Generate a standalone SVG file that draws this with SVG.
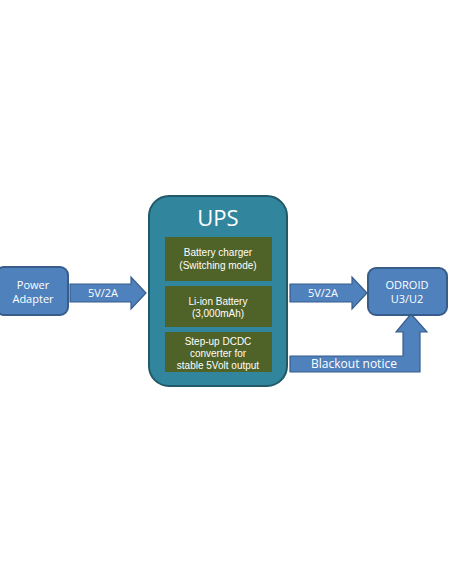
<svg xmlns="http://www.w3.org/2000/svg" width="452" height="584" viewBox="0 0 452 584">
<style>
.blue{fill:#4f81bd;stroke:#385d8a;stroke-width:2}
.arr{fill:#4f81bd;stroke:#385d8a;stroke-width:1.2}
.t{font-family:"Open Sans","Noto Sans",sans-serif;fill:#fff;text-anchor:middle}
.s{font-family:"Liberation Sans",Arial,sans-serif;font-size:10px}
.m{font-size:11px}
.g{fill:#4f6228}
</style>
<rect width="452" height="584" fill="#fff"/>
<g id="connectors">
<path class="arr" d="M70,284 H131 V277 L146,293 L131,309 V302 H70 Z"/>
<path class="arr" d="M290,284 H352 V277 L367,293 L352,309 V302 H290 Z"/>
<path class="arr" d="M290,356 H403 V332 H396 L411,314 L427,332 H420 V372 H290 Z"/>
<text class="t m" x="103" y="297">5V/2A</text>
<text class="t m" x="323" y="297">5V/2A</text>
<text class="t" x="354" y="368" font-size="12">Blackout notice</text>
</g>
<g id="power-adapter">
<rect class="blue" x="-4" y="267" width="72" height="48" rx="8"/>
<text class="t m" x="33" y="289">Power</text>
<text class="t m" x="33" y="303">Adapter</text>
</g>
<g id="ups">
<rect x="149" y="196" width="138" height="190" rx="20" fill="#31859c" stroke="#215968" stroke-width="2"/>
<text class="t" x="218" y="226" font-size="22">UPS</text>
<rect class="g" x="165" y="237" width="107" height="44"/>
<text class="t s" x="218" y="256">Battery charger</text>
<text class="t s" x="218" y="269">(Switching mode)</text>
<rect class="g" x="165" y="286" width="107" height="41"/>
<text class="t s" x="218" y="305">Li-ion Battery</text>
<text class="t s" x="218" y="317">(3,000mAh)</text>
<rect class="g" x="165" y="332" width="107" height="40"/>
<text class="t s" x="218" y="345">Step-up DCDC</text>
<text class="t s" x="218" y="357">converter for</text>
<text class="t s" x="218" y="369">stable 5Volt output</text>
</g>
<g id="odroid">
<rect class="blue" x="368" y="268" width="79" height="47" rx="8"/>
<text class="t m" x="407" y="289">ODROID</text>
<text class="t m" x="407" y="303">U3/U2</text>
</g>
</svg>
